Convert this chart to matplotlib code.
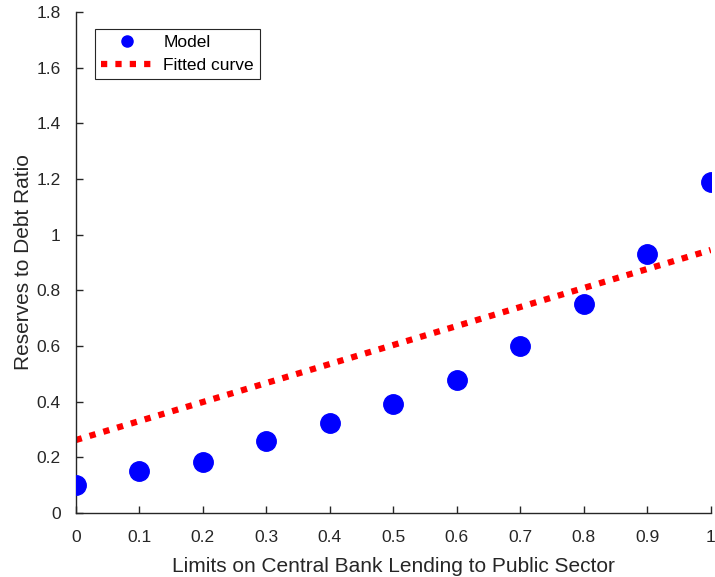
import matplotlib.pyplot as plt
import numpy as np

plt.rcParams['font.family'] = ['Liberation Sans', 'DejaVu Sans']

# model output at each lending limit
limits = [0, 0.1, 0.2, 0.3, 0.4, 0.5, 0.6, 0.7, 0.8, 0.9, 1.0]
reserves = [0.10, 0.15, 0.183, 0.259, 0.323, 0.392, 0.478, 0.60, 0.751, 0.93, 1.19]

# fitted line: intercept and slope
fit_intercept = 0.262
fit_slope = 0.683

xticks = [0, 0.1, 0.2, 0.3, 0.4, 0.5, 0.6, 0.7, 0.8, 0.9, 1]
yticks = [0, 0.2, 0.4, 0.6, 0.8, 1, 1.2, 1.4, 1.6, 1.8]

grey = '#262626'

fig = plt.figure(figsize=(7.15, 5.77), dpi=100)
ax = fig.add_axes([0.106, 0.111, 0.888, 0.868])

xfit = np.linspace(0, 1, 200)
yfit = fit_intercept + fit_slope * xfit

ax.plot(limits, reserves, 'o', color='blue', markersize=14, label='Model', zorder=3)
ax.plot(xfit, yfit, color='red', linewidth=4.5, linestyle=(0, (1, 1.3)),
        dash_capstyle='butt', label='Fitted curve', zorder=2)

ax.set_xlim(0, 1)
ax.set_ylim(0, 1.8)
ax.set_xticks(xticks)
ax.set_xticklabels(['%g' % t for t in xticks])
ax.set_yticks(yticks)
ax.set_yticklabels(['%g' % t for t in yticks])

for side in ['top', 'right']:
    ax.spines[side].set_visible(False)
for side in ['left', 'bottom']:
    ax.spines[side].set_color(grey)
    ax.spines[side].set_linewidth(1.0)

ax.tick_params(direction='in', length=5, width=1, colors=grey, labelsize=12.5)
ax.tick_params(axis='x', pad=12)
ax.tick_params(axis='y', pad=11)

ax.set_xlabel('Limits on Central Bank Lending to Public Sector', fontsize=15,
              color=grey, labelpad=9)
ax.set_ylabel('Reserves to Debt Ratio', fontsize=15, color=grey, labelpad=2)

leg = ax.legend(loc='upper left', bbox_to_anchor=(0.03, 0.966), fontsize=12.5,
                fancybox=False, framealpha=1, edgecolor=grey, borderaxespad=0,
                handlelength=3.0, handletextpad=0.6, borderpad=0.35,
                labelspacing=0.45)
leg.get_frame().set_linewidth(0.8)
leg.legend_handles[0].set_markersize(8)

plt.savefig('out.png', dpi=100)
